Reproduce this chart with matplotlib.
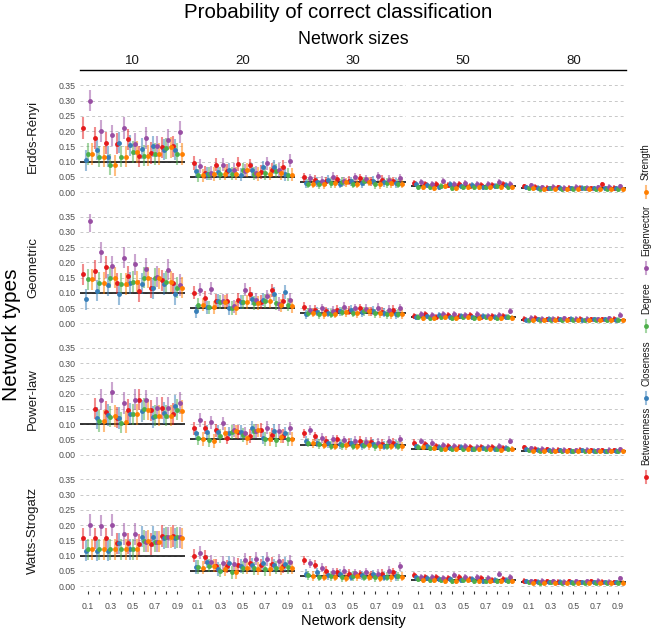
import numpy as np
import matplotlib
matplotlib.use('Agg')
import matplotlib.pyplot as plt
from matplotlib.lines import Line2D

plt.rcParams['font.family'] = ['Liberation Sans', 'DejaVu Sans']

# ---------------- data ----------------
network_types = ['Erdős-Rényi', 'Geometric', 'Power-law', 'Watts-Strogatz']
network_sizes = [10, 20, 30, 50, 80]
measures = ['Betweenness', 'Closeness', 'Degree', 'Eigenvector', 'Strength']
colors = ['#E41A1C', '#377EB8', '#4DAF4A', '#984EA3', '#FF7F00']
densities = [0.1, 0.2, 0.3, 0.4, 0.5, 0.6, 0.7, 0.8, 0.9]
density_labels = ['0.1', '', '0.3', '', '0.5', '', '0.7', '', '0.9']
chance_level = [0.1, 0.05, 0.0333, 0.02, 0.0125]
err_halfwidth = [0.035, 0.022, 0.015, 0.010, 0.008]
y_ticks = [0.00, 0.05, 0.10, 0.15, 0.20, 0.25, 0.30, 0.35]
nan = float('nan')

# each array: [Betweenness, Closeness, Degree, Eigenvector, Strength] x 9 densities
er_10 = [[0.21, 0.177, 0.161, 0.159, 0.173, 0.117, 0.128, 0.147, 0.15],
         [0.104, 0.139, 0.116, 0.162, 0.153, 0.142, 0.15, 0.139, 0.139],
         [0.125, 0.116, 0.09, 0.116, 0.131, 0.12, 0.125, 0.144, 0.125],
         [0.30, 0.20, 0.186, 0.21, 0.158, 0.177, 0.15, 0.172, 0.197],
         [0.125, 0.116, 0.088, 0.116, 0.131, 0.12, 0.125, 0.147, 0.125]]
er_20 = [[0.096, 0.064, 0.09, 0.07, 0.092, 0.088, 0.066, 0.072, 0.083],
         [0.068, 0.061, 0.067, 0.072, 0.057, 0.073, 0.081, 0.083, 0.059],
         [0.055, 0.061, 0.061, 0.061, 0.072, 0.061, 0.063, 0.07, 0.057],
         [0.086, 0.063, 0.09, 0.072, 0.07, 0.064, 0.094, 0.072, 0.103],
         [0.055, 0.059, 0.061, 0.061, 0.072, 0.059, 0.061, 0.063, 0.057]]
er_30 = [[0.048, 0.040, 0.035, 0.042, 0.038, 0.045, 0.036, 0.040, 0.035],
         [0.030, 0.033, 0.040, 0.028, 0.036, 0.030, 0.038, 0.032, 0.030],
         [0.028, 0.025, 0.030, 0.033, 0.028, 0.035, 0.026, 0.030, 0.028],
         [0.045, 0.038, 0.050, 0.036, 0.048, 0.042, 0.052, 0.040, 0.045],
         [0.028, 0.026, 0.030, 0.032, 0.028, 0.034, 0.026, 0.030, 0.027]]
er_50 = [[0.030, 0.025, 0.028, 0.022, 0.025, 0.020, 0.024, 0.022, 0.026],
         [0.028, 0.022, 0.018, 0.025, 0.020, 0.022, 0.018, 0.020, 0.022],
         [0.018, 0.016, 0.020, 0.015, 0.018, 0.016, 0.017, 0.019, 0.016],
         [0.032, 0.028, 0.035, 0.025, 0.030, 0.028, 0.026, 0.032, 0.028],
         [0.018, 0.015, 0.019, 0.015, 0.017, 0.016, 0.017, 0.018, 0.016]]
er_80 = [[0.020, 0.018, 0.015, 0.016, 0.014, 0.015, 0.013, 0.025, 0.014],
         [0.016, 0.014, 0.013, 0.015, 0.012, 0.014, 0.012, 0.013, 0.012],
         [0.012, 0.011, 0.012, 0.010, 0.011, 0.012, 0.010, 0.011, 0.010],
         [0.022, 0.016, 0.018, 0.015, 0.017, 0.014, 0.016, 0.018, 0.020],
         [0.012, 0.010, 0.011, 0.010, 0.011, 0.011, 0.010, 0.011, 0.010]]

geo_10 = [[0.161, 0.173, 0.185, 0.131, 0.154, 0.106, 0.117, 0.141, 0.131],
          [0.079, 0.107, 0.126, 0.096, 0.132, 0.13, 0.115, 0.129, 0.097],
          [0.145, 0.132, 0.15, 0.129, 0.137, 0.15, 0.148, 0.137, 0.117],
          [0.335, 0.233, 0.187, 0.216, 0.194, 0.178, 0.153, 0.176, 0.126],
          [0.145, 0.132, 0.15, 0.129, 0.137, 0.15, 0.148, 0.137, 0.117]]
geo_20 = [[0.101, 0.084, 0.073, 0.075, 0.077, 0.097, 0.07, 0.108, 0.075],
          [0.04, 0.053, 0.075, 0.051, 0.07, 0.081, 0.078, 0.097, 0.103],
          [0.062, 0.053, 0.07, 0.051, 0.07, 0.067, 0.073, 0.067, 0.062],
          [0.111, 0.114, 0.075, 0.056, 0.111, 0.078, 0.089, 0.064, 0.078],
          [0.062, 0.053, 0.07, 0.051, 0.07, 0.067, 0.073, 0.059, 0.057]]
geo_30 = [[0.055, 0.045, 0.040, 0.045, 0.042, 0.050, 0.040, 0.038, 0.045],
          [0.030, 0.038, 0.035, 0.040, 0.045, 0.036, 0.042, 0.035, 0.030],
          [0.035, 0.030, 0.032, 0.038, 0.035, 0.040, 0.033, 0.030, 0.032],
          [0.045, 0.050, 0.042, 0.055, 0.050, 0.048, 0.052, 0.045, 0.050],
          [0.035, 0.030, 0.032, 0.037, 0.034, 0.040, 0.033, 0.030, 0.031]]
geo_50 = [[0.025, 0.030, 0.022, 0.028, 0.024, 0.026, 0.022, 0.025, 0.023],
          [0.020, 0.025, 0.028, 0.022, 0.025, 0.020, 0.024, 0.022, 0.020],
          [0.020, 0.018, 0.022, 0.019, 0.021, 0.018, 0.020, 0.019, 0.020],
          [0.030, 0.028, 0.032, 0.030, 0.027, 0.030, 0.025, 0.028, 0.040],
          [0.019, 0.018, 0.021, 0.019, 0.020, 0.018, 0.019, 0.018, 0.019]]
geo_80 = [[0.015, 0.018, 0.014, 0.016, 0.013, 0.015, 0.014, 0.013, 0.015],
          [0.012, 0.014, 0.016, 0.013, 0.015, 0.012, 0.014, 0.013, 0.012],
          [0.011, 0.012, 0.012, 0.011, 0.012, 0.011, 0.012, 0.011, 0.012],
          [0.018, 0.016, 0.015, 0.017, 0.015, 0.016, 0.014, 0.017, 0.028],
          [0.011, 0.011, 0.012, 0.011, 0.011, 0.011, 0.011, 0.011, 0.011]]

pl_10 = [[nan, 0.151, 0.14, 0.122, 0.147, 0.18, 0.146, 0.153, 0.133],
         [nan, 0.12, 0.13, 0.12, 0.135, 0.143, 0.124, 0.137, 0.16],
         [nan, 0.11, 0.125, 0.105, 0.132, 0.15, 0.128, 0.128, 0.148],
         [nan, 0.18, 0.205, 0.17, 0.18, 0.178, 0.153, 0.153, 0.17],
         [nan, 0.11, 0.127, 0.107, 0.132, 0.148, 0.128, 0.128, 0.143]]
pl_20 = [[0.086, 0.089, 0.08, 0.056, 0.075, 0.062, 0.081, 0.065, 0.062],
         [0.07, 0.075, 0.075, 0.07, 0.075, 0.089, 0.056, 0.078, 0.07],
         [0.054, 0.048, 0.062, 0.075, 0.065, 0.078, 0.051, 0.048, 0.051],
         [0.114, 0.106, 0.103, 0.08, 0.07, 0.078, 0.089, 0.078, 0.086],
         [0.051, 0.045, 0.07, 0.077, 0.054, 0.08, 0.052, 0.059, 0.052]]
pl_30 = [[0.070, 0.060, 0.045, 0.050, 0.040, 0.045, 0.042, 0.035, 0.040],
         [0.045, 0.040, 0.038, 0.035, 0.040, 0.032, 0.036, 0.030, 0.033],
         [0.040, 0.035, 0.030, 0.032, 0.030, 0.033, 0.028, 0.030, 0.029],
         [0.080, 0.055, 0.050, 0.048, 0.045, 0.042, 0.040, 0.045, 0.050],
         [0.038, 0.033, 0.030, 0.031, 0.029, 0.032, 0.028, 0.029, 0.028]]
pl_50 = [[0.040, 0.035, 0.030, 0.028, 0.025, 0.026, 0.024, 0.025, 0.022],
         [0.030, 0.028, 0.025, 0.022, 0.024, 0.020, 0.022, 0.020, 0.021],
         [0.025, 0.022, 0.020, 0.019, 0.020, 0.018, 0.019, 0.018, 0.019],
         [0.045, 0.040, 0.032, 0.030, 0.028, 0.026, 0.025, 0.028, 0.045],
         [0.024, 0.021, 0.020, 0.018, 0.019, 0.018, 0.018, 0.017, 0.018]]
pl_80 = [[0.025, 0.020, 0.018, 0.016, 0.015, 0.016, 0.014, 0.015, 0.014],
         [0.018, 0.016, 0.014, 0.015, 0.013, 0.014, 0.013, 0.012, 0.013],
         [0.014, 0.013, 0.012, 0.012, 0.012, 0.011, 0.012, 0.011, 0.011],
         [0.022, 0.020, 0.017, 0.016, 0.015, 0.016, 0.014, 0.016, 0.018],
         [0.013, 0.012, 0.012, 0.011, 0.011, 0.011, 0.011, 0.011, 0.011]]

ws_10 = [[0.156, 0.156, 0.156, 0.14, 0.14, 0.137, 0.138, 0.164, 0.164],
         [0.116, 0.116, 0.116, 0.14, 0.12, 0.162, 0.162, 0.156, 0.156],
         [0.12, 0.12, 0.12, 0.12, 0.12, 0.148, 0.145, 0.16, 0.16],
         [0.2, 0.198, 0.2, 0.17, 0.17, 0.145, 0.145, 0.16, 0.16],
         [0.12, 0.12, 0.12, 0.12, 0.12, 0.148, 0.145, 0.16, 0.156]]
ws_20 = [[0.10, 0.095, 0.067, 0.064, 0.07, 0.075, 0.068, 0.072, 0.065],
         [0.062, 0.08, 0.056, 0.075, 0.065, 0.07, 0.075, 0.068, 0.072],
         [0.062, 0.067, 0.05, 0.045, 0.06, 0.058, 0.055, 0.06, 0.062],
         [0.109, 0.08, 0.075, 0.073, 0.085, 0.09, 0.088, 0.082, 0.08],
         [0.06, 0.067, 0.056, 0.045, 0.06, 0.057, 0.055, 0.058, 0.06]]
ws_30 = [[0.085, 0.070, 0.050, 0.045, 0.040, 0.038, 0.035, 0.040, 0.045],
         [0.040, 0.045, 0.035, 0.040, 0.030, 0.035, 0.038, 0.030, 0.033],
         [0.035, 0.030, 0.032, 0.028, 0.033, 0.030, 0.028, 0.030, 0.032],
         [0.075, 0.060, 0.045, 0.050, 0.042, 0.045, 0.040, 0.050, 0.065],
         [0.033, 0.030, 0.031, 0.027, 0.032, 0.030, 0.027, 0.029, 0.031]]
ws_50 = [[0.035, 0.030, 0.028, 0.025, 0.030, 0.022, 0.025, 0.020, 0.022],
         [0.028, 0.025, 0.022, 0.024, 0.020, 0.022, 0.018, 0.020, 0.019],
         [0.022, 0.020, 0.019, 0.018, 0.020, 0.017, 0.018, 0.017, 0.018],
         [0.030, 0.028, 0.025, 0.035, 0.028, 0.030, 0.025, 0.040, 0.028],
         [0.021, 0.019, 0.018, 0.018, 0.019, 0.017, 0.017, 0.017, 0.018]]
ws_80 = [[0.018, 0.016, 0.015, 0.014, 0.016, 0.013, 0.015, 0.014, 0.013],
         [0.015, 0.014, 0.013, 0.014, 0.012, 0.013, 0.012, 0.013, 0.012],
         [0.012, 0.011, 0.012, 0.011, 0.011, 0.011, 0.011, 0.011, 0.011],
         [0.016, 0.018, 0.015, 0.014, 0.016, 0.015, 0.018, 0.014, 0.025],
         [0.011, 0.011, 0.011, 0.010, 0.011, 0.011, 0.010, 0.011, 0.011]]

grid_data = [[er_10, er_20, er_30, er_50, er_80],
             [geo_10, geo_20, geo_30, geo_50, geo_80],
             [pl_10, pl_20, pl_30, pl_50, pl_80],
             [ws_10, ws_20, ws_30, ws_50, ws_80]]

# ---------------- layout (pixels) ----------------
W, H = 655, 631
fig = plt.figure(figsize=(W / 100, H / 100), dpi=100)

def fx(px):
    return px / W

def fy(py):
    return 1 - py / H

panel_left0 = 80.0
panel_w = 105.2
panel_gap = 5.0
row_top0 = 82.3
panel_h = 114.4
row_pitch = 131.3
ylim = (-0.015, 0.36)
xlim = (0.03, 0.97)
dodge = [-0.04, -0.02, 0.0, 0.02, 0.04]
grid_color = '#C8C8C8'
tick_color = '#4D4D4D'

for r in range(4):
    for c in range(5):
        left = panel_left0 + c * (panel_w + panel_gap)
        top = row_top0 + r * row_pitch
        ax = fig.add_axes([fx(left), fy(top + panel_h), panel_w / W, panel_h / H])
        ax.set_xlim(*xlim)
        ax.set_ylim(*ylim)
        for s in ax.spines.values():
            s.set_visible(False)
        for yt in y_ticks:
            ax.axhline(yt, color=grid_color, lw=0.7, ls=(0, (3, 3)), zorder=0)
        ax.axhline(chance_level[c], color='black', lw=1.1, zorder=1)
        vals = grid_data[r][c]
        e = err_halfwidth[c]
        for m in range(5):
            xs = np.array(densities) + dodge[m]
            ys = np.array(vals[m], dtype=float)
            ax.vlines(xs, ys - e, ys + e, color=colors[m], lw=1.5, alpha=0.5, zorder=2)
            ax.plot(xs, ys, 'o', color=colors[m], ms=3.5, mec='none', zorder=3)
        ax.set_yticks(y_ticks)
        if c == 0:
            ax.set_yticklabels(['%.2f' % v for v in y_ticks], fontsize=6.3, color=tick_color)
        else:
            ax.set_yticklabels([])
        ax.tick_params(axis='y', length=0, pad=3)
        ax.set_xticks(densities)
        if r == 3:
            ax.set_xticklabels(density_labels, fontsize=6.3, color=tick_color)
            ax.tick_params(axis='x', length=2, width=0.8, color='#333333', pad=6)
        else:
            ax.set_xticklabels([])
            ax.tick_params(axis='x', length=0)
        ax.patch.set_alpha(0)
        # row strip labels
        if c == 0:
            fig.text(fx(33), fy(top + panel_h / 2 - 3), network_types[r], rotation=90,
                     ha='center', va='center', fontsize=9.5, color='#1A1A1A')

# column strip labels and line
panels_right = panel_left0 + 5 * panel_w + 4 * panel_gap
for c in range(5):
    cx = panel_left0 + c * (panel_w + panel_gap) + panel_w / 2
    fig.text(fx(cx), fy(61), str(network_sizes[c]), ha='center', va='center',
             fontsize=9.5, color='#1A1A1A')
fig.add_artist(Line2D([fx(panel_left0), fx(panels_right)], [fy(70), fy(70)],
                      color='black', lw=1.0))

fig.text(fx(353), fy(39), 'Network sizes', ha='center', va='center', fontsize=12.8)
fig.text(fx(338), fy(12), 'Probability of correct classification', ha='center',
         va='center', fontsize=14.8)
fig.text(fx(12), fy(335), 'Network types', rotation=90, ha='center', va='center',
         fontsize=15)
fig.text(fx(353), fy(621), 'Network density', ha='center', va='center', fontsize=10.5)

# legend (rotated)
key_y = [477, 398, 326, 268, 192]
legend_x = 646
for m in range(5):
    ky = key_y[m]
    fig.add_artist(Line2D([fx(legend_x), fx(legend_x)], [fy(ky + 6), fy(ky - 6)],
                          color=colors[m], lw=1.5, alpha=0.5))
    fig.add_artist(Line2D([fx(legend_x)], [fy(ky)], marker='o', ms=3.5, mec='none',
                          color=colors[m], lw=0))
    fig.text(fx(legend_x), fy(ky - 12), measures[m], rotation=90, ha='center',
             va='bottom', fontsize=7.0, color='#1A1A1A')

fig.savefig('out.png', dpi=100)
